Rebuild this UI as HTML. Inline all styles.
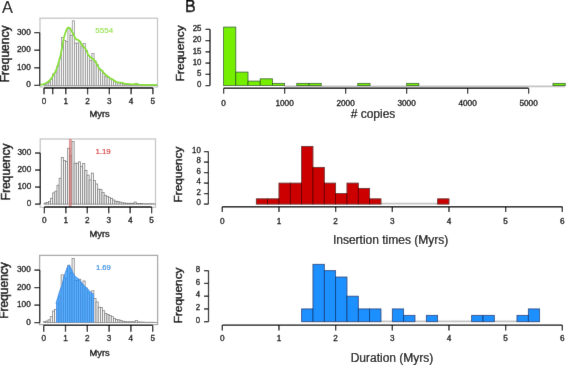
<!DOCTYPE html>
<html><head><meta charset="utf-8"><style>
html,body{margin:0;padding:0;background:#fff;}
body{width:567px;height:365px;overflow:hidden;}
svg{display:block;font-family:"Liberation Sans", sans-serif;}

</style></head><body>
<div id="w"><svg width="567" height="365" viewBox="0 0 567 365">
<defs><filter id="bl" x="0" y="0" width="567" height="365" filterUnits="userSpaceOnUse"><feConvolveMatrix order="3" kernelMatrix="0 1 0 1 12 1 0 1 0" edgeMode="duplicate" preserveAlpha="true"/></filter></defs>
<rect width="567" height="365" fill="#fff"/>
<g filter="url(#bl)">
<rect width="567" height="365" fill="#fff"/>
<text x="2" y="12.7" font-size="16.3" fill="#000" stroke="#000" stroke-width="0.15">A</text>
<text x="185" y="11.9" font-size="16" fill="#000" stroke="#000" stroke-width="0.45">B</text>
<rect x="40" y="18.2" width="117.5" height="68.8" fill="none" stroke="#c6c6c6" stroke-width="1.3" />
<rect x="43.95" y="84.34" width="2.18" height="1.06" fill="#f6f6f6" stroke="#8a8a8a" stroke-width="0.75" />
<rect x="46.13" y="83.82" width="2.18" height="1.58" fill="#f6f6f6" stroke="#8a8a8a" stroke-width="0.75" />
<rect x="48.31" y="82.58" width="2.18" height="2.82" fill="#f6f6f6" stroke="#8a8a8a" stroke-width="0.75" />
<rect x="50.48" y="79.42" width="2.18" height="5.98" fill="#f6f6f6" stroke="#8a8a8a" stroke-width="0.75" />
<rect x="52.66" y="73.78" width="2.18" height="11.62" fill="#f6f6f6" stroke="#8a8a8a" stroke-width="0.75" />
<rect x="54.84" y="72.02" width="2.18" height="13.38" fill="#f6f6f6" stroke="#8a8a8a" stroke-width="0.75" />
<rect x="57.02" y="65.86" width="2.18" height="19.54" fill="#f6f6f6" stroke="#8a8a8a" stroke-width="0.75" />
<rect x="59.2" y="58.65" width="2.18" height="26.75" fill="#f6f6f6" stroke="#8a8a8a" stroke-width="0.75" />
<rect x="61.37" y="37.35" width="2.18" height="48.05" fill="#f6f6f6" stroke="#8a8a8a" stroke-width="0.75" />
<rect x="63.55" y="40.34" width="2.18" height="45.06" fill="#f6f6f6" stroke="#8a8a8a" stroke-width="0.75" />
<rect x="65.73" y="41.4" width="2.18" height="44" fill="#f6f6f6" stroke="#8a8a8a" stroke-width="0.75" />
<rect x="67.91" y="27.67" width="2.18" height="57.73" fill="#f6f6f6" stroke="#8a8a8a" stroke-width="0.75" />
<rect x="70.09" y="35.42" width="2.18" height="49.98" fill="#f6f6f6" stroke="#8a8a8a" stroke-width="0.75" />
<rect x="72.26" y="20.81" width="2.18" height="64.59" fill="#f6f6f6" stroke="#8a8a8a" stroke-width="0.75" />
<rect x="74.44" y="43.16" width="2.18" height="42.24" fill="#f6f6f6" stroke="#8a8a8a" stroke-width="0.75" />
<rect x="76.62" y="43.16" width="2.18" height="42.24" fill="#f6f6f6" stroke="#8a8a8a" stroke-width="0.75" />
<rect x="78.8" y="41.75" width="2.18" height="43.65" fill="#f6f6f6" stroke="#8a8a8a" stroke-width="0.75" />
<rect x="80.98" y="46.68" width="2.18" height="38.72" fill="#f6f6f6" stroke="#8a8a8a" stroke-width="0.75" />
<rect x="83.15" y="43.51" width="2.18" height="41.89" fill="#f6f6f6" stroke="#8a8a8a" stroke-width="0.75" />
<rect x="85.33" y="50.55" width="2.18" height="34.85" fill="#f6f6f6" stroke="#8a8a8a" stroke-width="0.75" />
<rect x="87.51" y="55.48" width="2.18" height="29.92" fill="#f6f6f6" stroke="#8a8a8a" stroke-width="0.75" />
<rect x="89.69" y="60.41" width="2.18" height="24.99" fill="#f6f6f6" stroke="#8a8a8a" stroke-width="0.75" />
<rect x="91.87" y="53.37" width="2.18" height="32.03" fill="#f6f6f6" stroke="#8a8a8a" stroke-width="0.75" />
<rect x="94.04" y="61.11" width="2.18" height="24.29" fill="#f6f6f6" stroke="#8a8a8a" stroke-width="0.75" />
<rect x="96.22" y="64.63" width="2.18" height="20.77" fill="#f6f6f6" stroke="#8a8a8a" stroke-width="0.75" />
<rect x="98.4" y="69.91" width="2.18" height="15.49" fill="#f6f6f6" stroke="#8a8a8a" stroke-width="0.75" />
<rect x="100.58" y="70.26" width="2.18" height="15.14" fill="#f6f6f6" stroke="#8a8a8a" stroke-width="0.75" />
<rect x="102.76" y="73.43" width="2.18" height="11.97" fill="#f6f6f6" stroke="#8a8a8a" stroke-width="0.75" />
<rect x="104.93" y="76.25" width="2.18" height="9.15" fill="#f6f6f6" stroke="#8a8a8a" stroke-width="0.75" />
<rect x="107.11" y="77.3" width="2.18" height="8.1" fill="#f6f6f6" stroke="#8a8a8a" stroke-width="0.75" />
<rect x="109.29" y="78.36" width="2.18" height="7.04" fill="#f6f6f6" stroke="#8a8a8a" stroke-width="0.75" />
<rect x="111.47" y="79.42" width="2.18" height="5.98" fill="#f6f6f6" stroke="#8a8a8a" stroke-width="0.75" />
<rect x="113.65" y="81.18" width="2.18" height="4.22" fill="#f6f6f6" stroke="#8a8a8a" stroke-width="0.75" />
<rect x="115.82" y="82.41" width="2.18" height="2.99" fill="#f6f6f6" stroke="#8a8a8a" stroke-width="0.75" />
<rect x="118" y="82.58" width="2.18" height="2.82" fill="#f6f6f6" stroke="#8a8a8a" stroke-width="0.75" />
<rect x="120.18" y="83.29" width="2.18" height="2.11" fill="#f6f6f6" stroke="#8a8a8a" stroke-width="0.75" />
<rect x="122.36" y="83.99" width="2.18" height="1.41" fill="#f6f6f6" stroke="#8a8a8a" stroke-width="0.75" />
<rect x="124.54" y="84.17" width="2.18" height="1.23" fill="#f6f6f6" stroke="#8a8a8a" stroke-width="0.75" />
<rect x="126.71" y="84.52" width="2.18" height="0.88" fill="#f6f6f6" stroke="#8a8a8a" stroke-width="0.75" />
<rect x="128.89" y="84.52" width="2.18" height="0.88" fill="#f6f6f6" stroke="#8a8a8a" stroke-width="0.75" />
<rect x="131.07" y="84.52" width="2.18" height="0.88" fill="#f6f6f6" stroke="#8a8a8a" stroke-width="0.75" />
<rect x="133.25" y="84.52" width="2.18" height="0.88" fill="#f6f6f6" stroke="#8a8a8a" stroke-width="0.75" />
<rect x="135.43" y="83.29" width="2.18" height="2.11" fill="#f6f6f6" stroke="#8a8a8a" stroke-width="0.75" />
<rect x="137.6" y="84.7" width="2.18" height="0.7" fill="#f6f6f6" stroke="#8a8a8a" stroke-width="0.75" />
<rect x="139.78" y="84.87" width="2.18" height="0.53" fill="#f6f6f6" stroke="#8a8a8a" stroke-width="0.75" />
<rect x="141.96" y="84.87" width="2.18" height="0.53" fill="#f6f6f6" stroke="#8a8a8a" stroke-width="0.75" />
<rect x="144.14" y="85.05" width="2.18" height="0.35" fill="#f6f6f6" stroke="#8a8a8a" stroke-width="0.75" />
<rect x="146.32" y="85.05" width="2.18" height="0.35" fill="#f6f6f6" stroke="#8a8a8a" stroke-width="0.75" />
<rect x="148.49" y="85.05" width="2.18" height="0.35" fill="#f6f6f6" stroke="#8a8a8a" stroke-width="0.75" />
<rect x="150.67" y="85.05" width="2.18" height="0.35" fill="#f6f6f6" stroke="#8a8a8a" stroke-width="0.75" />
<rect x="152.85" y="85.05" width="2.18" height="0.35" fill="#f6f6f6" stroke="#8a8a8a" stroke-width="0.75" />
<rect x="155.03" y="85.22" width="2.18" height="0.18" fill="#f6f6f6" stroke="#8a8a8a" stroke-width="0.75" />
<polyline points="40,84.9 43.1,84.4 45.2,83.5 47.3,82.3 49.4,80.7 51.5,78.1 53.5,75 55.6,71.4 57.2,67.2 58.9,61.5 60.5,55.5 62.2,46.5 63.7,38.6 65.3,33 66.9,28.9 68.4,27.5 70,28.3 71.5,30.9 73.1,33.5 74.7,37.2 76.2,39.3 77.8,39.8 79.4,40.8 80.9,43.4 82.5,45.5 84,47.1 85.6,48.8 86.6,51 88.1,54.6 89.7,56.7 91.25,57.7 92.8,58.75 94.4,60.3 95.9,62.4 97.5,65.5 99.1,68.1 100.6,69.7 102.2,70.7 103.75,72.8 105.8,74.9 106.9,75.7 108.9,77.1 110.8,78.6 112.8,79.5 114.7,81 116.6,82 118.6,82.3 120.5,82.5 122.5,82.9 124.4,83.6 127.3,83.9 130.2,84.2 133.1,84.4 136,83.9 139,84.6 143.8,84.9 157.3,84.9" fill="none" stroke="#84e028" stroke-width="1.75" stroke-linejoin="round"/>
<text x="95.3" y="32.6" font-size="8" text-anchor="start" fill="#90e040" stroke="#90e040" stroke-width="0.12">5554</text>
<line x1="39.6" y1="85.4" x2="39.6" y2="32.6" stroke="#000" stroke-width="1.25" />
<line x1="34.3" y1="85.4" x2="39.6" y2="85.4" stroke="#000" stroke-width="1.25" />
<text transform="translate(30.7,87.4) scale(1,1.12)" font-size="8.2" text-anchor="end" fill="#000" stroke="#000" stroke-width="0.3">0</text>
<line x1="34.3" y1="67.8" x2="39.6" y2="67.8" stroke="#000" stroke-width="1.25" />
<text transform="translate(30.7,69.8) scale(1,1.12)" font-size="8.2" text-anchor="end" fill="#000" stroke="#000" stroke-width="0.3">100</text>
<line x1="34.3" y1="50.2" x2="39.6" y2="50.2" stroke="#000" stroke-width="1.25" />
<text transform="translate(30.7,52.2) scale(1,1.12)" font-size="8.2" text-anchor="end" fill="#000" stroke="#000" stroke-width="0.3">200</text>
<line x1="34.3" y1="32.6" x2="39.6" y2="32.6" stroke="#000" stroke-width="1.25" />
<text transform="translate(30.7,34.6) scale(1,1.12)" font-size="8.2" text-anchor="end" fill="#000" stroke="#000" stroke-width="0.3">300</text>
<line x1="44" y1="88" x2="152.9" y2="88" stroke="#000" stroke-width="1.35" />
<line x1="44" y1="88" x2="44" y2="94.3" stroke="#000" stroke-width="1.25" />
<line x1="65.78" y1="88" x2="65.78" y2="94.3" stroke="#000" stroke-width="1.25" />
<line x1="87.56" y1="88" x2="87.56" y2="94.3" stroke="#000" stroke-width="1.25" />
<line x1="109.34" y1="88" x2="109.34" y2="94.3" stroke="#000" stroke-width="1.25" />
<line x1="131.12" y1="88" x2="131.12" y2="94.3" stroke="#000" stroke-width="1.25" />
<line x1="152.9" y1="88" x2="152.9" y2="94.3" stroke="#000" stroke-width="1.25" />
<line x1="52.71" y1="88" x2="52.71" y2="94.3" stroke="#000" stroke-width="1.25" />
<text transform="translate(44,104.1) scale(1,1.12)" font-size="8.2" text-anchor="middle" fill="#000" stroke="#000" stroke-width="0.3">0</text>
<text transform="translate(65.78,104.1) scale(1,1.12)" font-size="8.2" text-anchor="middle" fill="#000" stroke="#000" stroke-width="0.3">1</text>
<text transform="translate(87.56,104.1) scale(1,1.12)" font-size="8.2" text-anchor="middle" fill="#000" stroke="#000" stroke-width="0.3">2</text>
<text transform="translate(109.34,104.1) scale(1,1.12)" font-size="8.2" text-anchor="middle" fill="#000" stroke="#000" stroke-width="0.3">3</text>
<text transform="translate(131.12,104.1) scale(1,1.12)" font-size="8.2" text-anchor="middle" fill="#000" stroke="#000" stroke-width="0.3">4</text>
<text transform="translate(152.9,104.1) scale(1,1.12)" font-size="8.2" text-anchor="middle" fill="#000" stroke="#000" stroke-width="0.3">5</text>
<text x="99.65" y="116.9" font-size="9.3" text-anchor="middle" fill="#000" stroke="#000" stroke-width="0.35">Myrs</text>
<text transform="translate(8.9,53.9) rotate(-90)" font-size="12" text-anchor="middle" fill="#000" stroke="#000" stroke-width="0.45">Frequency</text>
<rect x="40.2" y="139" width="115.3" height="68.3" fill="none" stroke="#c6c6c6" stroke-width="1.3" />
<rect x="44.1" y="203.08" width="2.14" height="1.02" fill="#f6f6f6" stroke="#777777" stroke-width="0.75" />
<rect x="46.24" y="202.57" width="2.14" height="1.53" fill="#f6f6f6" stroke="#777777" stroke-width="0.75" />
<rect x="48.39" y="201.38" width="2.14" height="2.72" fill="#f6f6f6" stroke="#777777" stroke-width="0.75" />
<rect x="50.53" y="198.31" width="2.14" height="5.79" fill="#f6f6f6" stroke="#777777" stroke-width="0.75" />
<rect x="52.68" y="192.86" width="2.14" height="11.24" fill="#f6f6f6" stroke="#777777" stroke-width="0.75" />
<rect x="54.82" y="191.16" width="2.14" height="12.94" fill="#f6f6f6" stroke="#777777" stroke-width="0.75" />
<rect x="56.96" y="185.2" width="2.14" height="18.9" fill="#f6f6f6" stroke="#777777" stroke-width="0.75" />
<rect x="59.11" y="178.21" width="2.14" height="25.89" fill="#f6f6f6" stroke="#777777" stroke-width="0.75" />
<rect x="61.25" y="157.61" width="2.14" height="46.49" fill="#f6f6f6" stroke="#777777" stroke-width="0.75" />
<rect x="63.4" y="160.5" width="2.14" height="43.6" fill="#f6f6f6" stroke="#777777" stroke-width="0.75" />
<rect x="65.54" y="161.52" width="2.14" height="42.58" fill="#f6f6f6" stroke="#777777" stroke-width="0.75" />
<rect x="67.68" y="148.24" width="2.14" height="55.86" fill="#f6f6f6" stroke="#777777" stroke-width="0.75" />
<rect x="69.83" y="155.73" width="2.14" height="48.37" fill="#f6f6f6" stroke="#777777" stroke-width="0.75" />
<rect x="71.97" y="141.6" width="2.14" height="62.5" fill="#f6f6f6" stroke="#777777" stroke-width="0.75" />
<rect x="74.12" y="163.23" width="2.14" height="40.87" fill="#f6f6f6" stroke="#777777" stroke-width="0.75" />
<rect x="76.26" y="163.23" width="2.14" height="40.87" fill="#f6f6f6" stroke="#777777" stroke-width="0.75" />
<rect x="78.4" y="161.87" width="2.14" height="42.23" fill="#f6f6f6" stroke="#777777" stroke-width="0.75" />
<rect x="80.55" y="166.63" width="2.14" height="37.47" fill="#f6f6f6" stroke="#777777" stroke-width="0.75" />
<rect x="82.69" y="163.57" width="2.14" height="40.53" fill="#f6f6f6" stroke="#777777" stroke-width="0.75" />
<rect x="84.84" y="170.38" width="2.14" height="33.72" fill="#f6f6f6" stroke="#777777" stroke-width="0.75" />
<rect x="86.98" y="175.15" width="2.14" height="28.95" fill="#f6f6f6" stroke="#777777" stroke-width="0.75" />
<rect x="89.12" y="179.92" width="2.14" height="24.18" fill="#f6f6f6" stroke="#777777" stroke-width="0.75" />
<rect x="91.27" y="173.11" width="2.14" height="30.99" fill="#f6f6f6" stroke="#777777" stroke-width="0.75" />
<rect x="93.41" y="180.6" width="2.14" height="23.5" fill="#f6f6f6" stroke="#777777" stroke-width="0.75" />
<rect x="95.56" y="184" width="2.14" height="20.1" fill="#f6f6f6" stroke="#777777" stroke-width="0.75" />
<rect x="97.7" y="189.11" width="2.14" height="14.99" fill="#f6f6f6" stroke="#777777" stroke-width="0.75" />
<rect x="99.84" y="189.45" width="2.14" height="14.65" fill="#f6f6f6" stroke="#777777" stroke-width="0.75" />
<rect x="101.99" y="192.52" width="2.14" height="11.58" fill="#f6f6f6" stroke="#777777" stroke-width="0.75" />
<rect x="104.13" y="195.24" width="2.14" height="8.86" fill="#f6f6f6" stroke="#777777" stroke-width="0.75" />
<rect x="106.28" y="196.27" width="2.14" height="7.83" fill="#f6f6f6" stroke="#777777" stroke-width="0.75" />
<rect x="108.42" y="197.29" width="2.14" height="6.81" fill="#f6f6f6" stroke="#777777" stroke-width="0.75" />
<rect x="110.56" y="198.31" width="2.14" height="5.79" fill="#f6f6f6" stroke="#777777" stroke-width="0.75" />
<rect x="112.71" y="200.01" width="2.14" height="4.09" fill="#f6f6f6" stroke="#777777" stroke-width="0.75" />
<rect x="114.85" y="201.2" width="2.14" height="2.9" fill="#f6f6f6" stroke="#777777" stroke-width="0.75" />
<rect x="117" y="201.38" width="2.14" height="2.72" fill="#f6f6f6" stroke="#777777" stroke-width="0.75" />
<rect x="119.14" y="202.06" width="2.14" height="2.04" fill="#f6f6f6" stroke="#777777" stroke-width="0.75" />
<rect x="121.28" y="202.74" width="2.14" height="1.36" fill="#f6f6f6" stroke="#777777" stroke-width="0.75" />
<rect x="123.43" y="202.91" width="2.14" height="1.19" fill="#f6f6f6" stroke="#777777" stroke-width="0.75" />
<rect x="125.57" y="203.25" width="2.14" height="0.85" fill="#f6f6f6" stroke="#777777" stroke-width="0.75" />
<rect x="127.72" y="203.25" width="2.14" height="0.85" fill="#f6f6f6" stroke="#777777" stroke-width="0.75" />
<rect x="129.86" y="203.25" width="2.14" height="0.85" fill="#f6f6f6" stroke="#777777" stroke-width="0.75" />
<rect x="132" y="203.25" width="2.14" height="0.85" fill="#f6f6f6" stroke="#777777" stroke-width="0.75" />
<rect x="134.15" y="202.06" width="2.14" height="2.04" fill="#f6f6f6" stroke="#777777" stroke-width="0.75" />
<rect x="136.29" y="203.42" width="2.14" height="0.68" fill="#f6f6f6" stroke="#777777" stroke-width="0.75" />
<rect x="138.44" y="203.59" width="2.14" height="0.51" fill="#f6f6f6" stroke="#777777" stroke-width="0.75" />
<rect x="140.58" y="203.59" width="2.14" height="0.51" fill="#f6f6f6" stroke="#777777" stroke-width="0.75" />
<rect x="142.72" y="203.76" width="2.14" height="0.34" fill="#f6f6f6" stroke="#777777" stroke-width="0.75" />
<rect x="144.87" y="203.76" width="2.14" height="0.34" fill="#f6f6f6" stroke="#777777" stroke-width="0.75" />
<rect x="147.01" y="203.76" width="2.14" height="0.34" fill="#f6f6f6" stroke="#777777" stroke-width="0.75" />
<rect x="149.16" y="203.76" width="2.14" height="0.34" fill="#f6f6f6" stroke="#777777" stroke-width="0.75" />
<rect x="151.3" y="203.76" width="2.14" height="0.34" fill="#f6f6f6" stroke="#777777" stroke-width="0.75" />
<rect x="153.44" y="203.93" width="2.14" height="0.17" fill="#f6f6f6" stroke="#777777" stroke-width="0.75" />
<rect x="68.9" y="139" width="2.8" height="67.6" fill="rgba(212,90,90,0.6)" stroke="none" stroke-width="0" />
<text x="95.4" y="153.7" font-size="7.9" text-anchor="start" fill="#dc3b3b" stroke="#dc3b3b" stroke-width="0.2">1.19</text>
<line x1="40.3" y1="204.1" x2="40.3" y2="153.01" stroke="#000" stroke-width="1.25" />
<line x1="35" y1="204.1" x2="40.3" y2="204.1" stroke="#000" stroke-width="1.25" />
<text transform="translate(31.2,206.1) scale(1,1.12)" font-size="8.2" text-anchor="end" fill="#000" stroke="#000" stroke-width="0.3">0</text>
<line x1="35" y1="187.07" x2="40.3" y2="187.07" stroke="#000" stroke-width="1.25" />
<text transform="translate(31.2,189.07) scale(1,1.12)" font-size="8.2" text-anchor="end" fill="#000" stroke="#000" stroke-width="0.3">100</text>
<line x1="35" y1="170.04" x2="40.3" y2="170.04" stroke="#000" stroke-width="1.25" />
<text transform="translate(31.2,172.04) scale(1,1.12)" font-size="8.2" text-anchor="end" fill="#000" stroke="#000" stroke-width="0.3">200</text>
<line x1="35" y1="153.01" x2="40.3" y2="153.01" stroke="#000" stroke-width="1.25" />
<text transform="translate(31.2,155.01) scale(1,1.12)" font-size="8.2" text-anchor="end" fill="#000" stroke="#000" stroke-width="0.3">300</text>
<line x1="44.4" y1="207" x2="151.6" y2="207" stroke="#000" stroke-width="1.35" />
<line x1="44.4" y1="207" x2="44.4" y2="213.3" stroke="#000" stroke-width="1.25" />
<line x1="65.84" y1="207" x2="65.84" y2="213.3" stroke="#000" stroke-width="1.25" />
<line x1="87.28" y1="207" x2="87.28" y2="213.3" stroke="#000" stroke-width="1.25" />
<line x1="108.72" y1="207" x2="108.72" y2="213.3" stroke="#000" stroke-width="1.25" />
<line x1="130.16" y1="207" x2="130.16" y2="213.3" stroke="#000" stroke-width="1.25" />
<line x1="151.6" y1="207" x2="151.6" y2="213.3" stroke="#000" stroke-width="1.25" />
<text transform="translate(44.4,223.1) scale(1,1.12)" font-size="8.2" text-anchor="middle" fill="#000" stroke="#000" stroke-width="0.3">0</text>
<text transform="translate(65.84,223.1) scale(1,1.12)" font-size="8.2" text-anchor="middle" fill="#000" stroke="#000" stroke-width="0.3">1</text>
<text transform="translate(87.28,223.1) scale(1,1.12)" font-size="8.2" text-anchor="middle" fill="#000" stroke="#000" stroke-width="0.3">2</text>
<text transform="translate(108.72,223.1) scale(1,1.12)" font-size="8.2" text-anchor="middle" fill="#000" stroke="#000" stroke-width="0.3">3</text>
<text transform="translate(130.16,223.1) scale(1,1.12)" font-size="8.2" text-anchor="middle" fill="#000" stroke="#000" stroke-width="0.3">4</text>
<text transform="translate(151.6,223.1) scale(1,1.12)" font-size="8.2" text-anchor="middle" fill="#000" stroke="#000" stroke-width="0.3">5</text>
<text x="99.65" y="236.9" font-size="9.3" text-anchor="middle" fill="#000" stroke="#000" stroke-width="0.35">Myrs</text>
<text transform="translate(9.9,171.8) rotate(-90)" font-size="12" text-anchor="middle" fill="#000" stroke="#000" stroke-width="0.45">Frequency</text>
<rect x="39.6" y="255.4" width="118" height="69.2" fill="none" stroke="#a8a8a8" stroke-width="1.3" />
<rect x="43.7" y="321.55" width="2.18" height="1.05" fill="#f6f6f6" stroke="#7a7a7a" stroke-width="0.75" />
<rect x="45.88" y="321.03" width="2.18" height="1.57" fill="#f6f6f6" stroke="#7a7a7a" stroke-width="0.75" />
<rect x="48.06" y="319.8" width="2.18" height="2.8" fill="#f6f6f6" stroke="#7a7a7a" stroke-width="0.75" />
<rect x="50.24" y="316.65" width="2.18" height="5.95" fill="#f6f6f6" stroke="#7a7a7a" stroke-width="0.75" />
<rect x="52.42" y="311.05" width="2.18" height="11.55" fill="#f6f6f6" stroke="#7a7a7a" stroke-width="0.75" />
<rect x="54.6" y="309.3" width="2.18" height="13.3" fill="#f6f6f6" stroke="#7a7a7a" stroke-width="0.75" />
<rect x="56.78" y="303.18" width="2.18" height="19.42" fill="#f6f6f6" stroke="#7a7a7a" stroke-width="0.75" />
<rect x="58.96" y="296" width="2.18" height="26.6" fill="#f6f6f6" stroke="#7a7a7a" stroke-width="0.75" />
<rect x="61.14" y="274.83" width="2.18" height="47.77" fill="#f6f6f6" stroke="#7a7a7a" stroke-width="0.75" />
<rect x="63.32" y="277.8" width="2.18" height="44.8" fill="#f6f6f6" stroke="#7a7a7a" stroke-width="0.75" />
<rect x="65.5" y="278.85" width="2.18" height="43.75" fill="#f6f6f6" stroke="#7a7a7a" stroke-width="0.75" />
<rect x="67.68" y="265.2" width="2.18" height="57.4" fill="#f6f6f6" stroke="#7a7a7a" stroke-width="0.75" />
<rect x="69.86" y="272.9" width="2.18" height="49.7" fill="#f6f6f6" stroke="#7a7a7a" stroke-width="0.75" />
<rect x="72.04" y="258.38" width="2.18" height="64.22" fill="#f6f6f6" stroke="#7a7a7a" stroke-width="0.75" />
<rect x="74.22" y="280.6" width="2.18" height="42" fill="#f6f6f6" stroke="#7a7a7a" stroke-width="0.75" />
<rect x="76.4" y="280.6" width="2.18" height="42" fill="#f6f6f6" stroke="#7a7a7a" stroke-width="0.75" />
<rect x="78.58" y="279.2" width="2.18" height="43.4" fill="#f6f6f6" stroke="#7a7a7a" stroke-width="0.75" />
<rect x="80.76" y="284.1" width="2.18" height="38.5" fill="#f6f6f6" stroke="#7a7a7a" stroke-width="0.75" />
<rect x="82.94" y="280.95" width="2.18" height="41.65" fill="#f6f6f6" stroke="#7a7a7a" stroke-width="0.75" />
<rect x="85.12" y="287.95" width="2.18" height="34.65" fill="#f6f6f6" stroke="#7a7a7a" stroke-width="0.75" />
<rect x="87.3" y="292.85" width="2.18" height="29.75" fill="#f6f6f6" stroke="#7a7a7a" stroke-width="0.75" />
<rect x="89.48" y="297.75" width="2.18" height="24.85" fill="#f6f6f6" stroke="#7a7a7a" stroke-width="0.75" />
<rect x="91.66" y="290.75" width="2.18" height="31.85" fill="#f6f6f6" stroke="#7a7a7a" stroke-width="0.75" />
<rect x="93.84" y="298.45" width="2.18" height="24.15" fill="#f6f6f6" stroke="#7a7a7a" stroke-width="0.75" />
<rect x="96.02" y="301.95" width="2.18" height="20.65" fill="#f6f6f6" stroke="#7a7a7a" stroke-width="0.75" />
<rect x="98.2" y="307.2" width="2.18" height="15.4" fill="#f6f6f6" stroke="#7a7a7a" stroke-width="0.75" />
<rect x="100.38" y="307.55" width="2.18" height="15.05" fill="#f6f6f6" stroke="#7a7a7a" stroke-width="0.75" />
<rect x="102.56" y="310.7" width="2.18" height="11.9" fill="#f6f6f6" stroke="#7a7a7a" stroke-width="0.75" />
<rect x="104.74" y="313.5" width="2.18" height="9.1" fill="#f6f6f6" stroke="#7a7a7a" stroke-width="0.75" />
<rect x="106.92" y="314.55" width="2.18" height="8.05" fill="#f6f6f6" stroke="#7a7a7a" stroke-width="0.75" />
<rect x="109.1" y="315.6" width="2.18" height="7" fill="#f6f6f6" stroke="#7a7a7a" stroke-width="0.75" />
<rect x="111.28" y="316.65" width="2.18" height="5.95" fill="#f6f6f6" stroke="#7a7a7a" stroke-width="0.75" />
<rect x="113.46" y="318.4" width="2.18" height="4.2" fill="#f6f6f6" stroke="#7a7a7a" stroke-width="0.75" />
<rect x="115.64" y="319.62" width="2.18" height="2.97" fill="#f6f6f6" stroke="#7a7a7a" stroke-width="0.75" />
<rect x="117.82" y="319.8" width="2.18" height="2.8" fill="#f6f6f6" stroke="#7a7a7a" stroke-width="0.75" />
<rect x="120" y="320.5" width="2.18" height="2.1" fill="#f6f6f6" stroke="#7a7a7a" stroke-width="0.75" />
<rect x="122.18" y="321.2" width="2.18" height="1.4" fill="#f6f6f6" stroke="#7a7a7a" stroke-width="0.75" />
<rect x="124.36" y="321.38" width="2.18" height="1.22" fill="#f6f6f6" stroke="#7a7a7a" stroke-width="0.75" />
<rect x="126.54" y="321.73" width="2.18" height="0.88" fill="#f6f6f6" stroke="#7a7a7a" stroke-width="0.75" />
<rect x="128.72" y="321.73" width="2.18" height="0.88" fill="#f6f6f6" stroke="#7a7a7a" stroke-width="0.75" />
<rect x="130.9" y="321.73" width="2.18" height="0.88" fill="#f6f6f6" stroke="#7a7a7a" stroke-width="0.75" />
<rect x="133.08" y="321.73" width="2.18" height="0.88" fill="#f6f6f6" stroke="#7a7a7a" stroke-width="0.75" />
<rect x="135.26" y="320.5" width="2.18" height="2.1" fill="#f6f6f6" stroke="#7a7a7a" stroke-width="0.75" />
<rect x="137.44" y="321.9" width="2.18" height="0.7" fill="#f6f6f6" stroke="#7a7a7a" stroke-width="0.75" />
<rect x="139.62" y="322.08" width="2.18" height="0.52" fill="#f6f6f6" stroke="#7a7a7a" stroke-width="0.75" />
<rect x="141.8" y="322.08" width="2.18" height="0.52" fill="#f6f6f6" stroke="#7a7a7a" stroke-width="0.75" />
<rect x="143.98" y="322.25" width="2.18" height="0.35" fill="#f6f6f6" stroke="#7a7a7a" stroke-width="0.75" />
<rect x="146.16" y="322.25" width="2.18" height="0.35" fill="#f6f6f6" stroke="#7a7a7a" stroke-width="0.75" />
<rect x="148.34" y="322.25" width="2.18" height="0.35" fill="#f6f6f6" stroke="#7a7a7a" stroke-width="0.75" />
<rect x="150.52" y="322.25" width="2.18" height="0.35" fill="#f6f6f6" stroke="#7a7a7a" stroke-width="0.75" />
<rect x="152.7" y="322.25" width="2.18" height="0.35" fill="#f6f6f6" stroke="#7a7a7a" stroke-width="0.75" />
<rect x="154.88" y="322.43" width="2.18" height="0.17" fill="#f6f6f6" stroke="#7a7a7a" stroke-width="0.75" />
<polygon points="56,322.6 56,303.5 57.7,297.8 59.8,290.7 62,285 63.4,279.3 65.5,272.2 67.6,266.5 69.1,265.1 71.2,268.7 73.3,273.6 75.5,276.8 77.5,278 79.5,279.8 80.5,281.2 82.7,284 84.8,286.2 86.9,288.3 89.1,290.4 91.2,292.6 93.3,294 94.05,294.7 94.05,322.6" fill="#1e90ff" fill-opacity="0.72" stroke="none"/>
<polyline points="56,303.5 57.7,297.8 59.8,290.7 62,285 63.4,279.3 65.5,272.2 67.6,266.5 69.1,265.1 71.2,268.7 73.3,273.6 75.5,276.8 77.5,278 79.5,279.8 80.5,281.2 82.7,284 84.8,286.2 86.9,288.3 89.1,290.4 91.2,292.6 93.3,294 94.05,294.7" fill="none" stroke="#3a8fe6" stroke-width="1.0"/>
<text x="96" y="269.7" font-size="7.6" text-anchor="start" fill="#2f8ee0" stroke="#2f8ee0" stroke-width="0.2">1.69</text>
<line x1="39.7" y1="322.6" x2="39.7" y2="270.1" stroke="#000" stroke-width="1.25" />
<line x1="34.4" y1="322.6" x2="39.7" y2="322.6" stroke="#000" stroke-width="1.25" />
<text transform="translate(30.7,324.6) scale(1,1.12)" font-size="8.2" text-anchor="end" fill="#000" stroke="#000" stroke-width="0.3">0</text>
<line x1="34.4" y1="305.1" x2="39.7" y2="305.1" stroke="#000" stroke-width="1.25" />
<text transform="translate(30.7,307.1) scale(1,1.12)" font-size="8.2" text-anchor="end" fill="#000" stroke="#000" stroke-width="0.3">100</text>
<line x1="34.4" y1="287.6" x2="39.7" y2="287.6" stroke="#000" stroke-width="1.25" />
<text transform="translate(30.7,289.6) scale(1,1.12)" font-size="8.2" text-anchor="end" fill="#000" stroke="#000" stroke-width="0.3">200</text>
<line x1="34.4" y1="270.1" x2="39.7" y2="270.1" stroke="#000" stroke-width="1.25" />
<text transform="translate(30.7,272.1) scale(1,1.12)" font-size="8.2" text-anchor="end" fill="#000" stroke="#000" stroke-width="0.3">300</text>
<line x1="43.7" y1="325.4" x2="152.7" y2="325.4" stroke="#000" stroke-width="1.35" />
<line x1="43.7" y1="325.4" x2="43.7" y2="331.7" stroke="#000" stroke-width="1.25" />
<line x1="65.5" y1="325.4" x2="65.5" y2="331.7" stroke="#000" stroke-width="1.25" />
<line x1="87.3" y1="325.4" x2="87.3" y2="331.7" stroke="#000" stroke-width="1.25" />
<line x1="109.1" y1="325.4" x2="109.1" y2="331.7" stroke="#000" stroke-width="1.25" />
<line x1="130.9" y1="325.4" x2="130.9" y2="331.7" stroke="#000" stroke-width="1.25" />
<line x1="152.7" y1="325.4" x2="152.7" y2="331.7" stroke="#000" stroke-width="1.25" />
<text transform="translate(43.7,341.3) scale(1,1.12)" font-size="8.2" text-anchor="middle" fill="#000" stroke="#000" stroke-width="0.3">0</text>
<text transform="translate(65.5,341.3) scale(1,1.12)" font-size="8.2" text-anchor="middle" fill="#000" stroke="#000" stroke-width="0.3">1</text>
<text transform="translate(87.3,341.3) scale(1,1.12)" font-size="8.2" text-anchor="middle" fill="#000" stroke="#000" stroke-width="0.3">2</text>
<text transform="translate(109.1,341.3) scale(1,1.12)" font-size="8.2" text-anchor="middle" fill="#000" stroke="#000" stroke-width="0.3">3</text>
<text transform="translate(130.9,341.3) scale(1,1.12)" font-size="8.2" text-anchor="middle" fill="#000" stroke="#000" stroke-width="0.3">4</text>
<text transform="translate(152.7,341.3) scale(1,1.12)" font-size="8.2" text-anchor="middle" fill="#000" stroke="#000" stroke-width="0.3">5</text>
<text x="99.65" y="356.3" font-size="9.3" text-anchor="middle" fill="#000" stroke="#000" stroke-width="0.35">Myrs</text>
<text transform="translate(8.4,290.5) rotate(-90)" font-size="12" text-anchor="middle" fill="#000" stroke="#000" stroke-width="0.45">Frequency</text>
<line x1="284.6" y1="86.4" x2="565.2" y2="86.4" stroke="#c4c4c4" stroke-width="1.8" />
<rect x="223.6" y="27.1" width="12.2" height="58.5" fill="#76ee00" stroke="#2f6010" stroke-width="0.8" />
<rect x="235.8" y="72.1" width="12.2" height="13.5" fill="#76ee00" stroke="#2f6010" stroke-width="0.8" />
<rect x="248" y="81.1" width="12.2" height="4.5" fill="#76ee00" stroke="#2f6010" stroke-width="0.8" />
<rect x="260.2" y="78.85" width="12.2" height="6.75" fill="#76ee00" stroke="#2f6010" stroke-width="0.8" />
<rect x="272.4" y="83.35" width="12.2" height="2.25" fill="#76ee00" stroke="#2f6010" stroke-width="0.8" />
<rect x="296.8" y="83.35" width="12.2" height="2.25" fill="#76ee00" stroke="#2f6010" stroke-width="0.8" />
<rect x="309" y="83.35" width="12.2" height="2.25" fill="#76ee00" stroke="#2f6010" stroke-width="0.8" />
<rect x="357.8" y="83.35" width="12.2" height="2.25" fill="#76ee00" stroke="#2f6010" stroke-width="0.8" />
<rect x="406.6" y="83.35" width="12.2" height="2.25" fill="#76ee00" stroke="#2f6010" stroke-width="0.8" />
<rect x="553" y="83.35" width="12.2" height="2.25" fill="#76ee00" stroke="#2f6010" stroke-width="0.8" />
<line x1="210" y1="85.6" x2="210" y2="29.35" stroke="#000" stroke-width="1.25" />
<line x1="205.5" y1="85.6" x2="210" y2="85.6" stroke="#000" stroke-width="1.25" />
<text transform="translate(201.5,87.4) scale(1,1.12)" font-size="7.9" text-anchor="end" fill="#000" stroke="#000" stroke-width="0.3">0</text>
<line x1="205.5" y1="74.35" x2="210" y2="74.35" stroke="#000" stroke-width="1.25" />
<text transform="translate(201.5,76.15) scale(1,1.12)" font-size="7.9" text-anchor="end" fill="#000" stroke="#000" stroke-width="0.3">5</text>
<line x1="205.5" y1="63.1" x2="210" y2="63.1" stroke="#000" stroke-width="1.25" />
<text transform="translate(201.5,64.9) scale(1,1.12)" font-size="7.9" text-anchor="end" fill="#000" stroke="#000" stroke-width="0.3">10</text>
<line x1="205.5" y1="51.85" x2="210" y2="51.85" stroke="#000" stroke-width="1.25" />
<text transform="translate(201.5,53.65) scale(1,1.12)" font-size="7.9" text-anchor="end" fill="#000" stroke="#000" stroke-width="0.3">15</text>
<line x1="205.5" y1="40.6" x2="210" y2="40.6" stroke="#000" stroke-width="1.25" />
<text transform="translate(201.5,42.4) scale(1,1.12)" font-size="7.9" text-anchor="end" fill="#000" stroke="#000" stroke-width="0.3">20</text>
<line x1="205.5" y1="29.35" x2="210" y2="29.35" stroke="#000" stroke-width="1.25" />
<text transform="translate(201.5,31.15) scale(1,1.12)" font-size="7.9" text-anchor="end" fill="#000" stroke="#000" stroke-width="0.3">25</text>
<line x1="223.6" y1="88.3" x2="528.6" y2="88.3" stroke="#000" stroke-width="1.4" />
<line x1="223.6" y1="88.3" x2="223.6" y2="93.6" stroke="#000" stroke-width="1.25" />
<text transform="translate(223.6,105.9) scale(1,1.12)" font-size="8.2" text-anchor="middle" fill="#000" stroke="#000" stroke-width="0.3">0</text>
<line x1="284.6" y1="88.3" x2="284.6" y2="93.6" stroke="#000" stroke-width="1.25" />
<text transform="translate(284.6,105.9) scale(1,1.12)" font-size="8.2" text-anchor="middle" fill="#000" stroke="#000" stroke-width="0.3">1000</text>
<line x1="345.6" y1="88.3" x2="345.6" y2="93.6" stroke="#000" stroke-width="1.25" />
<text transform="translate(345.6,105.9) scale(1,1.12)" font-size="8.2" text-anchor="middle" fill="#000" stroke="#000" stroke-width="0.3">2000</text>
<line x1="406.6" y1="88.3" x2="406.6" y2="93.6" stroke="#000" stroke-width="1.25" />
<text transform="translate(406.6,105.9) scale(1,1.12)" font-size="8.2" text-anchor="middle" fill="#000" stroke="#000" stroke-width="0.3">3000</text>
<line x1="467.6" y1="88.3" x2="467.6" y2="93.6" stroke="#000" stroke-width="1.25" />
<text transform="translate(467.6,105.9) scale(1,1.12)" font-size="8.2" text-anchor="middle" fill="#000" stroke="#000" stroke-width="0.3">4000</text>
<line x1="528.6" y1="88.3" x2="528.6" y2="93.6" stroke="#000" stroke-width="1.25" />
<text transform="translate(528.6,105.9) scale(1,1.12)" font-size="8.2" text-anchor="middle" fill="#000" stroke="#000" stroke-width="0.3">5000</text>
<text x="373" y="117.6" font-size="12" text-anchor="middle" fill="#000" stroke="#000" stroke-width="0.22"># copies</text>
<text transform="translate(184,53.3) rotate(-90)" font-size="11.8" text-anchor="middle" fill="#000" stroke="#000" stroke-width="0.45">Frequency</text>
<line x1="380.98" y1="203.6" x2="437.65" y2="203.6" stroke="#c4c4c4" stroke-width="1.8" />
<rect x="256.3" y="198.85" width="11.33" height="5.25" fill="#cd0000" stroke="#5a0000" stroke-width="0.8" />
<rect x="267.64" y="198.85" width="11.33" height="5.25" fill="#cd0000" stroke="#5a0000" stroke-width="0.8" />
<rect x="278.97" y="183.1" width="11.33" height="21" fill="#cd0000" stroke="#5a0000" stroke-width="0.8" />
<rect x="290.3" y="183.1" width="11.33" height="21" fill="#cd0000" stroke="#5a0000" stroke-width="0.8" />
<rect x="301.64" y="146.35" width="11.33" height="57.75" fill="#cd0000" stroke="#5a0000" stroke-width="0.8" />
<rect x="312.97" y="167.35" width="11.33" height="36.75" fill="#cd0000" stroke="#5a0000" stroke-width="0.8" />
<rect x="324.31" y="183.1" width="11.33" height="21" fill="#cd0000" stroke="#5a0000" stroke-width="0.8" />
<rect x="335.64" y="193.6" width="11.33" height="10.5" fill="#cd0000" stroke="#5a0000" stroke-width="0.8" />
<rect x="346.97" y="183.1" width="11.33" height="21" fill="#cd0000" stroke="#5a0000" stroke-width="0.8" />
<rect x="358.31" y="188.35" width="11.33" height="15.75" fill="#cd0000" stroke="#5a0000" stroke-width="0.8" />
<rect x="369.64" y="198.85" width="11.33" height="5.25" fill="#cd0000" stroke="#5a0000" stroke-width="0.8" />
<rect x="437.65" y="198.85" width="11.33" height="5.25" fill="#cd0000" stroke="#5a0000" stroke-width="0.8" />
<line x1="208.4" y1="204.1" x2="208.4" y2="151.6" stroke="#000" stroke-width="1.25" />
<line x1="203.9" y1="204.1" x2="208.4" y2="204.1" stroke="#000" stroke-width="1.25" />
<text transform="translate(200.8,205.3) scale(1,1.12)" font-size="7.9" text-anchor="end" fill="#000" stroke="#000" stroke-width="0.3">0</text>
<line x1="203.9" y1="193.6" x2="208.4" y2="193.6" stroke="#000" stroke-width="1.25" />
<text transform="translate(200.8,194.8) scale(1,1.12)" font-size="7.9" text-anchor="end" fill="#000" stroke="#000" stroke-width="0.3">2</text>
<line x1="203.9" y1="183.1" x2="208.4" y2="183.1" stroke="#000" stroke-width="1.25" />
<text transform="translate(200.8,184.3) scale(1,1.12)" font-size="7.9" text-anchor="end" fill="#000" stroke="#000" stroke-width="0.3">4</text>
<line x1="203.9" y1="172.6" x2="208.4" y2="172.6" stroke="#000" stroke-width="1.25" />
<text transform="translate(200.8,173.8) scale(1,1.12)" font-size="7.9" text-anchor="end" fill="#000" stroke="#000" stroke-width="0.3">6</text>
<line x1="203.9" y1="162.1" x2="208.4" y2="162.1" stroke="#000" stroke-width="1.25" />
<text transform="translate(200.8,163.3) scale(1,1.12)" font-size="7.9" text-anchor="end" fill="#000" stroke="#000" stroke-width="0.3">8</text>
<line x1="203.9" y1="151.6" x2="208.4" y2="151.6" stroke="#000" stroke-width="1.25" />
<text transform="translate(200.8,152.8) scale(1,1.12)" font-size="7.9" text-anchor="end" fill="#000" stroke="#000" stroke-width="0.3">10</text>
<line x1="222.3" y1="206.8" x2="562.32" y2="206.8" stroke="#000" stroke-width="1.4" />
<line x1="222.3" y1="206.8" x2="222.3" y2="212.1" stroke="#000" stroke-width="1.25" />
<text transform="translate(222.3,224.3) scale(1,1.12)" font-size="8.2" text-anchor="middle" fill="#000" stroke="#000" stroke-width="0.3">0</text>
<line x1="278.97" y1="206.8" x2="278.97" y2="212.1" stroke="#000" stroke-width="1.25" />
<text transform="translate(278.97,224.3) scale(1,1.12)" font-size="8.2" text-anchor="middle" fill="#000" stroke="#000" stroke-width="0.3">1</text>
<line x1="335.64" y1="206.8" x2="335.64" y2="212.1" stroke="#000" stroke-width="1.25" />
<text transform="translate(335.64,224.3) scale(1,1.12)" font-size="8.2" text-anchor="middle" fill="#000" stroke="#000" stroke-width="0.3">2</text>
<line x1="392.31" y1="206.8" x2="392.31" y2="212.1" stroke="#000" stroke-width="1.25" />
<text transform="translate(392.31,224.3) scale(1,1.12)" font-size="8.2" text-anchor="middle" fill="#000" stroke="#000" stroke-width="0.3">3</text>
<line x1="448.98" y1="206.8" x2="448.98" y2="212.1" stroke="#000" stroke-width="1.25" />
<text transform="translate(448.98,224.3) scale(1,1.12)" font-size="8.2" text-anchor="middle" fill="#000" stroke="#000" stroke-width="0.3">4</text>
<line x1="505.65" y1="206.8" x2="505.65" y2="212.1" stroke="#000" stroke-width="1.25" />
<text transform="translate(505.65,224.3) scale(1,1.12)" font-size="8.2" text-anchor="middle" fill="#000" stroke="#000" stroke-width="0.3">5</text>
<line x1="562.32" y1="206.8" x2="562.32" y2="212.1" stroke="#000" stroke-width="1.25" />
<text transform="translate(562.32,224.3) scale(1,1.12)" font-size="8.2" text-anchor="middle" fill="#000" stroke="#000" stroke-width="0.3">6</text>
<text x="390.6" y="244.3" font-size="12" text-anchor="middle" fill="#000" stroke="#000" stroke-width="0.22">Insertion times (Myrs)</text>
<text transform="translate(182.2,174.5) rotate(-90)" font-size="11.8" text-anchor="middle" fill="#000" stroke="#000" stroke-width="0.45">Frequency</text>
<line x1="301.64" y1="321.4" x2="539.65" y2="321.4" stroke="#c4c4c4" stroke-width="1.8" />
<rect x="301.64" y="308.94" width="11.33" height="12.76" fill="#1e90ff" stroke="#0e3c78" stroke-width="0.8" />
<rect x="312.97" y="264.28" width="11.33" height="57.42" fill="#1e90ff" stroke="#0e3c78" stroke-width="0.8" />
<rect x="324.31" y="270.66" width="11.33" height="51.04" fill="#1e90ff" stroke="#0e3c78" stroke-width="0.8" />
<rect x="335.64" y="277.04" width="11.33" height="44.66" fill="#1e90ff" stroke="#0e3c78" stroke-width="0.8" />
<rect x="346.97" y="296.18" width="11.33" height="25.52" fill="#1e90ff" stroke="#0e3c78" stroke-width="0.8" />
<rect x="358.31" y="308.94" width="11.33" height="12.76" fill="#1e90ff" stroke="#0e3c78" stroke-width="0.8" />
<rect x="369.64" y="308.94" width="11.33" height="12.76" fill="#1e90ff" stroke="#0e3c78" stroke-width="0.8" />
<rect x="392.31" y="308.94" width="11.33" height="12.76" fill="#1e90ff" stroke="#0e3c78" stroke-width="0.8" />
<rect x="403.64" y="315.32" width="11.33" height="6.38" fill="#1e90ff" stroke="#0e3c78" stroke-width="0.8" />
<rect x="426.31" y="315.32" width="11.33" height="6.38" fill="#1e90ff" stroke="#0e3c78" stroke-width="0.8" />
<rect x="471.65" y="315.32" width="11.33" height="6.38" fill="#1e90ff" stroke="#0e3c78" stroke-width="0.8" />
<rect x="482.98" y="315.32" width="11.33" height="6.38" fill="#1e90ff" stroke="#0e3c78" stroke-width="0.8" />
<rect x="516.98" y="315.32" width="11.33" height="6.38" fill="#1e90ff" stroke="#0e3c78" stroke-width="0.8" />
<rect x="528.32" y="308.94" width="11.33" height="12.76" fill="#1e90ff" stroke="#0e3c78" stroke-width="0.8" />
<line x1="208.5" y1="321.7" x2="208.5" y2="270.66" stroke="#000" stroke-width="1.25" />
<line x1="204" y1="321.7" x2="208.5" y2="321.7" stroke="#000" stroke-width="1.25" />
<text transform="translate(200.1,322.9) scale(1,1.12)" font-size="7.9" text-anchor="end" fill="#000" stroke="#000" stroke-width="0.3">0</text>
<line x1="204" y1="308.94" x2="208.5" y2="308.94" stroke="#000" stroke-width="1.25" />
<text transform="translate(200.1,310.14) scale(1,1.12)" font-size="7.9" text-anchor="end" fill="#000" stroke="#000" stroke-width="0.3">2</text>
<line x1="204" y1="296.18" x2="208.5" y2="296.18" stroke="#000" stroke-width="1.25" />
<text transform="translate(200.1,297.38) scale(1,1.12)" font-size="7.9" text-anchor="end" fill="#000" stroke="#000" stroke-width="0.3">4</text>
<line x1="204" y1="283.42" x2="208.5" y2="283.42" stroke="#000" stroke-width="1.25" />
<text transform="translate(200.1,284.62) scale(1,1.12)" font-size="7.9" text-anchor="end" fill="#000" stroke="#000" stroke-width="0.3">6</text>
<line x1="204" y1="270.66" x2="208.5" y2="270.66" stroke="#000" stroke-width="1.25" />
<text transform="translate(200.1,271.86) scale(1,1.12)" font-size="7.9" text-anchor="end" fill="#000" stroke="#000" stroke-width="0.3">8</text>
<line x1="222.3" y1="325.1" x2="562.32" y2="325.1" stroke="#000" stroke-width="1.4" />
<line x1="222.3" y1="325.1" x2="222.3" y2="330.4" stroke="#000" stroke-width="1.25" />
<text transform="translate(222.3,341.3) scale(1,1.12)" font-size="8.2" text-anchor="middle" fill="#000" stroke="#000" stroke-width="0.3">0</text>
<line x1="278.97" y1="325.1" x2="278.97" y2="330.4" stroke="#000" stroke-width="1.25" />
<text transform="translate(278.97,341.3) scale(1,1.12)" font-size="8.2" text-anchor="middle" fill="#000" stroke="#000" stroke-width="0.3">1</text>
<line x1="335.64" y1="325.1" x2="335.64" y2="330.4" stroke="#000" stroke-width="1.25" />
<text transform="translate(335.64,341.3) scale(1,1.12)" font-size="8.2" text-anchor="middle" fill="#000" stroke="#000" stroke-width="0.3">2</text>
<line x1="392.31" y1="325.1" x2="392.31" y2="330.4" stroke="#000" stroke-width="1.25" />
<text transform="translate(392.31,341.3) scale(1,1.12)" font-size="8.2" text-anchor="middle" fill="#000" stroke="#000" stroke-width="0.3">3</text>
<line x1="448.98" y1="325.1" x2="448.98" y2="330.4" stroke="#000" stroke-width="1.25" />
<text transform="translate(448.98,341.3) scale(1,1.12)" font-size="8.2" text-anchor="middle" fill="#000" stroke="#000" stroke-width="0.3">4</text>
<line x1="505.65" y1="325.1" x2="505.65" y2="330.4" stroke="#000" stroke-width="1.25" />
<text transform="translate(505.65,341.3) scale(1,1.12)" font-size="8.2" text-anchor="middle" fill="#000" stroke="#000" stroke-width="0.3">5</text>
<line x1="562.32" y1="325.1" x2="562.32" y2="330.4" stroke="#000" stroke-width="1.25" />
<text transform="translate(562.32,341.3) scale(1,1.12)" font-size="8.2" text-anchor="middle" fill="#000" stroke="#000" stroke-width="0.3">6</text>
<text x="392" y="361.7" font-size="12" text-anchor="middle" fill="#000" stroke="#000" stroke-width="0.22">Duration (Myrs)</text>
<text transform="translate(182,295.4) rotate(-90)" font-size="11.8" text-anchor="middle" fill="#000" stroke="#000" stroke-width="0.45">Frequency</text>
</g>
</svg></div>
</body></html>
